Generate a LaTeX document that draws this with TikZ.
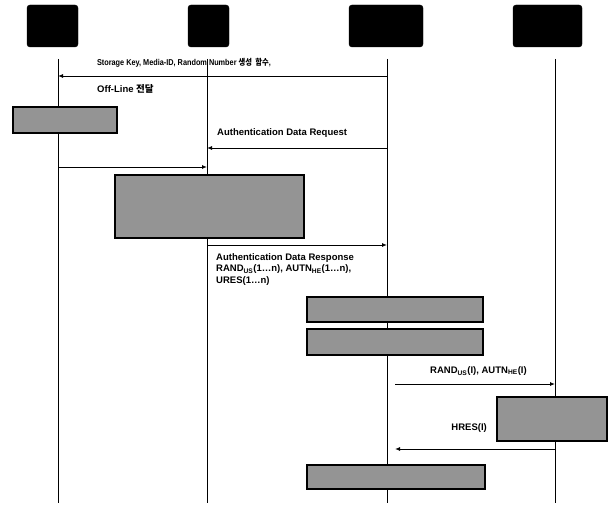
\documentclass[tikz,border=0pt]{standalone}
\usepackage{fontspec}
\setmainfont{Liberation Sans}
\newfontfamily\krfont{Noto Sans CJK KR}
\usetikzlibrary{arrows.meta, positioning}
\tikzset{
  actor/.style={
    fill=black, draw=black, rounded corners=3pt,
    minimum width=#1, minimum height=42pt, inner sep=0pt
  },
  lifeline/.style={line width=0.8pt, black},
  msg/.style={-{Latex[length=5pt,width=4pt]}, line width=0.9pt, black},
  procbox/.style={
    draw=black, fill=black!42, line width=1.2pt,
    minimum width=#1, inner sep=0pt
  },
  lbl/.style={font=\fontsize{9.5}{11.5}\selectfont\bfseries, inner sep=1pt},
  slbl/.style={font=\fontsize{8.5}{10}\selectfont\bfseries, inner sep=1pt,
    xscale=0.86, transform shape},
}

\begin{document}
\begin{tikzpicture}[x=1pt, y=-1pt]
    \useasboundingbox (0,0) rectangle (612,505);

    % entities
    \node[actor=51pt] (ent1) at (52.5,26) {};
    \node[actor=41pt] (ent2) at (208.5,26) {};
    \node[actor=74pt] (ent3) at (386,26) {};
    \node[actor=69pt] (ent4) at (547.5,26) {};

    % lifelines
    \coordinate (top1) at (58,59);   \coordinate (bot1) at (58,503);
    \coordinate (top2) at (207,59);  \coordinate (bot2) at (207,503);
    \coordinate (top3) at (387,59);  \coordinate (bot3) at (387,503);
    \coordinate (top4) at (555,59);  \coordinate (bot4) at (555,503);
    \foreach \i in {1,...,4}
      \draw[lifeline] (top\i) -- (bot\i);

    % storage key message
    \coordinate (m1s) at (387,76);
    \coordinate (m1e) at (58,76);
    \draw[msg] (m1s) -- (m1e);
    \node[slbl, anchor=west] (m1a) at (96,63)
      {Storage Key, Media-ID, Random Number {\krfont 생성 \ 함수},};
    \node[lbl, anchor=west] (m1b) at (96,89) {Off-Line {\krfont 전달}};

    \node[procbox=104pt, minimum height=26pt] (boxa) at (65,120) {};

    % authentication data request
    \node[lbl, anchor=west] (m2) at (216,133) {Authentication Data Request};
    \coordinate (m2s) at (387,148);
    \coordinate (m2e) at (207,148);
    \draw[msg] (m2s) -- (m2e);

    \coordinate (m3s) at (58,167);
    \coordinate (m3e) at (207,167);
    \draw[msg] (m3s) -- (m3e);

    \node[procbox=189pt, minimum height=63pt] (boxb) at (209.5,206.5) {};

    % authentication data response
    \coordinate (m4s) at (207,245);
    \coordinate (m4e) at (387,245);
    \draw[msg] (m4s) -- (m4e);
    \node[lbl, anchor=north west, align=left] (m4) at (215,252)
      {Authentication Data Response\\
       RAND\textsubscript{US}(1\ldots n), AUTN\textsubscript{HE}(1\ldots n),\\
       URES(1\ldots n)};

    \node[procbox=176pt, minimum height=25pt] (boxc) at (395,309.5) {};
    \node[procbox=176pt, minimum height=26pt] (boxd) at (395,342) {};

    % challenge
    \node[lbl, anchor=west] (m5) at (429,371)
      {RAND\textsubscript{US}(I), AUTN\textsubscript{HE}(I)};
    \coordinate (m5s) at (395,384);
    \coordinate (m5e) at (555,384);
    \draw[msg] (m5s) -- (m5e);

    \node[procbox=110pt, minimum height=44pt] (boxe) at (552,419) {};

    \node[lbl, anchor=east] (m6) at (488,428) {HRES(I)};
    \coordinate (m6s) at (555,449);
    \coordinate (m6e) at (395,449);
    \draw[msg] (m6s) -- (m6e);

    \node[procbox=178pt, minimum height=24pt] (boxf) at (396,477) {};
  \end{tikzpicture}
\end{document}
